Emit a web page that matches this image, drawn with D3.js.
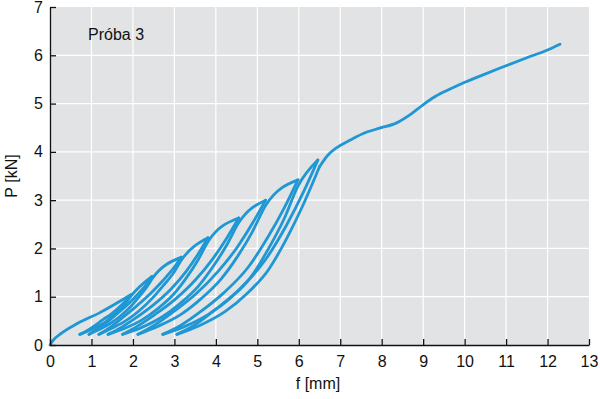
<!DOCTYPE html>
<html lang="pl">
<head>
  <meta charset="UTF-8">
  <title>Próba 3</title>
  <script src="https://d3js.org/d3.v7.min.js"></script>
  <style>
    body { margin: 0; background: #fff; }
    text { font-family: "Liberation Sans", Arial, sans-serif; }
  </style>
</head>
<body>
<div class="main"></div>
<script>
  // axis ticks
  const xTicks = [0, 1, 2, 3, 4, 5, 6, 7, 8, 9, 10, 11, 12, 13];
  const yTicks = [0, 1, 2, 3, 4, 5, 6, 7];

  // first loading up to the first unloaded peak
  const firstLoad = [[0, 0], [0.08, 0.1], [0.27, 0.24], [0.67, 0.45], [1.18, 0.66], [1.95, 1.04]];

  // unloading branches, listed from valley up to the peak they start at
  const unloadCurves = [
    [[0.72,0.22],[0.88,0.29],[1.06,0.39],[1.27,0.52],[1.49,0.65],[1.68,0.79],[1.83,0.92],[1.95,1.04]],
    [[0.94,0.22],[1.14,0.33],[1.37,0.47],[1.62,0.65],[1.90,0.86],[2.13,1.06],[2.31,1.24],[2.46,1.42]],
    [[1.18,0.22],[1.44,0.36],[1.74,0.56],[2.08,0.80],[2.43,1.07],[2.73,1.34],[2.97,1.58],[3.17,1.82]],
    [[1.40,0.22],[1.71,0.36],[2.07,0.56],[2.48,0.82],[2.92,1.16],[3.28,1.52],[3.57,1.88],[3.81,2.22]],
    [[1.75,0.22],[2.11,0.39],[2.53,0.63],[3.01,0.94],[3.51,1.35],[3.93,1.79],[4.27,2.22],[4.55,2.63]],
    [[2.12,0.22],[2.52,0.41],[2.98,0.69],[3.51,1.05],[4.06,1.53],[4.52,2.03],[4.89,2.53],[5.20,3.00]],
    [[2.72,0.22],[3.14,0.40],[3.63,0.69],[4.19,1.08],[4.77,1.60],[5.26,2.24],[5.65,2.84],[5.98,3.42]],
    [[3.06,0.22],[3.50,0.42],[4.01,0.75],[4.59,1.17],[5.20,1.77],[5.71,2.49],[6.12,3.18],[6.46,3.83]]
  ];

  // reloading branches, from valley up past the old peak
  const reloadCurves = [
    [[0.72,0.22],[0.92,0.29],[1.14,0.38],[1.34,0.48],[1.52,0.61],[1.68,0.74],[1.83,0.87],[1.95,1.01]],
    [[0.94,0.22],[1.18,0.32],[1.46,0.45],[1.70,0.60],[1.93,0.78],[2.13,0.98],[2.31,1.17],[2.46,1.37]],
    [[1.18,0.22],[1.50,0.35],[1.86,0.52],[2.18,0.73],[2.47,0.97],[2.73,1.23],[2.97,1.48],[3.17,1.76]],
    [[1.40,0.22],[1.79,0.34],[2.22,0.52],[2.61,0.76],[2.97,1.04],[3.28,1.38],[3.57,1.76],[3.81,2.14]],
    [[1.75,0.22],[2.20,0.36],[2.70,0.58],[3.15,0.87],[3.57,1.21],[3.93,1.62],[4.27,2.08],[4.55,2.53]],
    [[2.12,0.22],[2.61,0.39],[3.17,0.64],[3.66,0.97],[4.12,1.36],[4.52,1.83],[4.89,2.36],[5.20,2.89]],
    [[2.72,0.22],[3.24,0.38],[3.83,0.64],[4.35,0.97],[4.84,1.40],[5.26,1.98],[5.65,2.62],[5.98,3.29]],
    [[3.06,0.22],[3.60,0.40],[4.22,0.69],[4.76,1.07],[5.27,1.56],[5.71,2.21],[6.12,2.93],[6.50,3.69]]
  ];

  // loading after the last cycle
  const finalLoad = [[6.50,3.69],[6.70,3.93],[6.92,4.09],[7.23,4.24],[7.64,4.41],[7.95,4.49],[8.36,4.60],[8.67,4.76],
    [8.99,4.97],[9.30,5.15],[9.65,5.30],[9.95,5.42],[10.43,5.59],[10.84,5.73],[11.50,5.95],[12.00,6.11],[12.30,6.23]];

  const width = 600, height = 399;
  const lineColor = "#1f97d4";

  const svg = d3.select(".main").append("svg")
    .attr("width", width)
    .attr("height", height)
    .style("display", "block");

  const xScale = d3.scaleLinear().domain([0, 13]).range([50, 589]);
  const yScale = d3.scaleLinear().domain([0, 7]).range([345, 7]);

  // grey plot area
  svg.append("rect")
    .attr("x", xScale(0)).attr("y", yScale(7))
    .attr("width", xScale(13) - xScale(0))
    .attr("height", yScale(0) - yScale(7))
    .attr("fill", "#e1e3e5");

  // white grid
  const grid = svg.append("g");
  grid.selectAll(".vx").data(xTicks.slice(1, -1)).join("line")
    .attr("x1", d => xScale(d)).attr("x2", d => xScale(d))
    .attr("y1", yScale(7)).attr("y2", yScale(0))
    .attr("stroke", "#fff").attr("stroke-width", 1.2);
  grid.selectAll(".hy").data(yTicks.slice(1, -1)).join("line")
    .attr("y1", d => yScale(d)).attr("y2", d => yScale(d))
    .attr("x1", xScale(0)).attr("x2", xScale(13))
    .attr("stroke", "#fff").attr("stroke-width", 1.2);

  // curves
  const line = d3.line()
    .x(d => xScale(d[0]))
    .y(d => yScale(d[1]))
    .curve(d3.curveMonotoneX);

  const branches = [firstLoad];
  unloadCurves.forEach(c => branches.push(c));
  reloadCurves.forEach((c, i) => {
    if (i < reloadCurves.length - 1) {
      branches.push(c.concat([unloadCurves[i + 1][unloadCurves[i + 1].length - 1]]));
    } else {
      branches.push(c);
    }
  });
  branches.push(finalLoad);

  svg.append("g").selectAll("path").data(branches).join("path")
    .attr("d", line)
    .attr("fill", "none")
    .attr("stroke", lineColor)
    .attr("stroke-width", 2.8)
    .attr("stroke-linecap", "round")
    .attr("stroke-linejoin", "round");

  // axes
  let xAxis = d3.axisBottom(xScale).tickValues(xTicks).tickFormat(d3.format("d"))
    .tickSizeInner(-6).tickSizeOuter(0).tickPadding(11);
  let yAxis = d3.axisLeft(yScale).tickValues(yTicks).tickFormat(d3.format("d"))
    .tickSizeInner(-6).tickSizeOuter(0).tickPadding(7);

  function draw(axis, translate) {
    const g = svg.append("g").attr("transform", translate).call(axis);
    g.select(".domain").attr("stroke", "#111").attr("stroke-width", 1.3);
    g.selectAll(".tick line").attr("stroke", "#111").attr("stroke-width", 1.3);
    g.selectAll(".tick text")
      .attr("fill", "#111")
      .style("font-size", "16px")
      .style("font-family", "'Liberation Sans', Arial, sans-serif");
    return g;
  }
  draw(xAxis, `translate(0, ${yScale(0)})`);
  draw(yAxis, `translate(${xScale(0)}, 0)`);

  // labels
  svg.append("text").attr("x", 318).attr("y", 389)
    .attr("text-anchor", "middle").style("font-size", "16px").attr("fill", "#111")
    .text("f [mm]");
  svg.append("text").attr("transform", "translate(17, 176) rotate(-90)")
    .attr("text-anchor", "middle").style("font-size", "16px").attr("fill", "#111")
    .text("P [kN]");
  svg.append("text").attr("x", 88).attr("y", 40)
    .style("font-size", "16px").attr("fill", "#111")
    .text("Próba 3");
</script>
</body>
</html>
